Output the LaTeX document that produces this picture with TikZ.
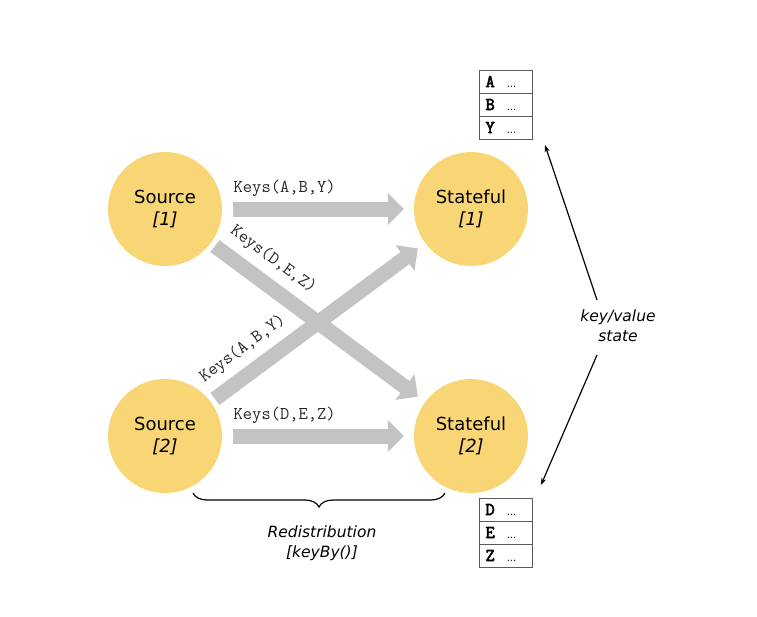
\documentclass[tikz,border=0pt]{standalone}
\usepackage{fontspec}
\newfontfamily\sansf{DejaVu Sans}
\newfontfamily\boldtt{Latin Modern Mono}[FakeBold=3]
\usetikzlibrary{arrows.meta,decorations.pathreplacing}
\definecolor{circ}{RGB}{249,214,117}
\definecolor{flow}{RGB}{195,195,195}
\definecolor{tab}{RGB}{90,90,90}
\newcommand{\rowcell}[1]{{\boldtt\fontsize{18}{18}\selectfont #1}\hspace{12pt}{\sansf\fontsize{10}{10}\selectfont...}}
\begin{document}
\begin{tikzpicture}[x=1pt,y=-1pt,
  op/.style={circle, fill=circ, minimum size=114pt, inner sep=0pt,
    font=\sansf\fontsize{18}{22}\selectfont, align=center},
  flowarrow/.style={draw=flow, line width=15pt,
    -{Triangle[width=31pt,length=16pt]}},
  keylbl/.style={font=\ttfamily\fontsize{18}{18}\selectfont, text=black!85, inner sep=0pt},
  row/.style={draw=tab, line width=0.8pt, minimum width=53pt, minimum height=23pt,
    inner ysep=0pt, inner xsep=6.5pt, text width=40pt, align=left},
  note/.style={font=\sansf\itshape\fontsize{15.5}{20}\selectfont, align=center, inner sep=0pt},
  thin/.style={line width=1.2pt, -{Stealth[length=7pt,width=5pt]}}
]
\useasboundingbox (0,0) rectangle (757,616);

\node[op] (s1) at (165,209) {Source\\\textit{[1]}};
\node[op] (s2) at (165,436) {Source\\\textit{[2]}};
\node[op] (t1) at (471,209) {Stateful\\\textit{[1]}};
\node[op] (t2) at (471,436) {Stateful\\\textit{[2]}};

\draw[flowarrow, shorten <=11pt, shorten >=10pt] (s1) -- (t1)
  node[keylbl, pos=0, anchor=south west, xshift=4pt, yshift=5pt] {Keys(A,B,Y)};
\draw[flowarrow, shorten <=11pt, shorten >=10pt] (s2) -- (t2)
  node[keylbl, pos=0, anchor=south west, xshift=4pt, yshift=5pt] {Keys(D,E,Z)};
\draw[flowarrow, shorten <=5pt, shorten >=9pt] (s1) -- (t2)
  node[keylbl, pos=0.225, sloped, above=8pt] {Keys(D,E,Z)};
\draw[flowarrow, shorten <=5pt, shorten >=9pt] (s2) -- (t1)
  node[keylbl, pos=0.215, sloped, above=8pt] {Keys(A,B,Y)};

% state tables
\node[row] (ra) at (505.5,81.5) {\rowcell{A}};
\node[row] (rb) at (505.5,104.5) {\rowcell{B}};
\node[row] (ry) at (505.5,127.5) {\rowcell{Y}};
\node[row] (rd) at (505.5,509.5) {\rowcell{D}};
\node[row] (re) at (505.5,532.5) {\rowcell{E}};
\node[row] (rz) at (505.5,555.5) {\rowcell{Z}};

% key/value state
\node[note] (kv) at (618,326) {key/value\\state};
\coordinate (kvt) at (597,300);
\coordinate (kvb) at (597,355);
\coordinate (topend) at (545,145);
\coordinate (botend) at (541,485);
\draw[thin] (kvt) -- (topend);
\draw[thin] (kvb) -- (botend);

% brace
\coordinate (bl) at (193,493);
\coordinate (br) at (445,493);
\draw[line width=1.2pt, decorate, decoration={brace, amplitude=14pt, mirror}] (bl) -- (br);
\node[note] (redis) at (322,543) {Redistribution\\{[keyBy()]}};
\end{tikzpicture}
\end{document}
